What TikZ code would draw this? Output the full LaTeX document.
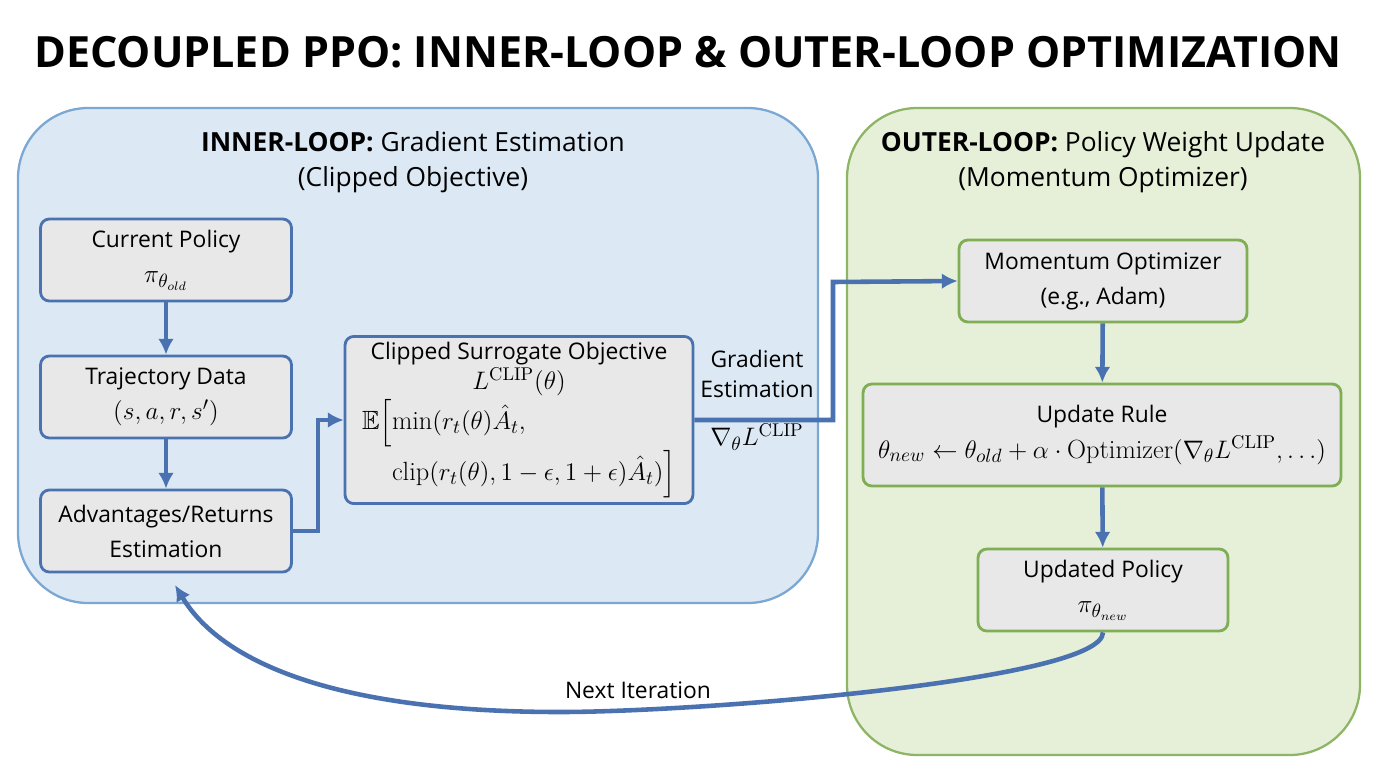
\documentclass[tikz,border=0pt]{standalone}
\usepackage{amsmath,amssymb}
\usepackage{fontspec}
\setmainfont{Open Sans}
\setmathrm{Latin Modern Roman}
\usetikzlibrary{arrows.meta}
\definecolor{bbord}{HTML}{4A72B0}
\definecolor{ifill}{HTML}{DCE9F5}
\definecolor{iline}{HTML}{7BA7D3}
\definecolor{ofill}{HTML}{E6F0D8}
\definecolor{oline}{HTML}{8DB565}
\definecolor{nfill}{HTML}{E8E8E8}
\definecolor{obord}{HTML}{7FAE55}
\newcommand{\mf}{\fontsize{15}{22}\selectfont}
\begin{document}
\begin{tikzpicture}[x=0.02cm,y=-0.02cm,
  box/.style={draw=bbord,line width=1.6pt,fill=nfill,rounded corners=5pt,align=center,font=\fontsize{13}{20}\selectfont},
  gbox/.style={box,draw=obord},
  arr/.style={draw=bbord,line width=2.6pt,-{Latex[length=9pt,width=9pt]}},
  lab/.style={font=\fontsize{13}{17}\selectfont,align=center}]
\useasboundingbox (0,0) rectangle (1376,768);
\node[font=\bfseries\fontsize{24.5}{30}\selectfont] (title) at (688,52) {DECOUPLED PPO: INNER-LOOP \& OUTER-LOOP OPTIMIZATION};
\path[draw=iline,fill=ifill,line width=1.3pt,rounded corners=40pt] (18,108) rectangle (818,603);
\path[draw=oline,fill=ofill,line width=1.3pt,rounded corners=40pt] (847,108) rectangle (1360,755);
\node[lab,font=\fontsize{15}{20}\selectfont] (ih) at (413,162) {\textbf{INNER-LOOP:} Gradient Estimation\\(Clipped Objective)};
\node[lab,font=\fontsize{15}{20}\selectfont] (oh) at (1103,162) {\textbf{OUTER-LOOP:} Policy Weight Update\\(Momentum Optimizer)};
\node[box,minimum width=5.02cm,minimum height=1.64cm] (cp) at (166,260) {Current Policy\\{\mf$\pi_{\theta_{old}}$}};
\node[box,minimum width=5.02cm,minimum height=1.64cm] (tr) at (166,397) {Trajectory Data\\{\mf$(s,a,r,s')$}};
\node[box,minimum width=5.02cm,minimum height=1.64cm] (ad) at (166,531) {Advantages/Returns\\Estimation};
\node[box,minimum width=6.96cm,minimum height=2.96cm] (cl) at (519,420) {Clipped Surrogate Objective\\[-3pt]{\mf$L^{\mathrm{CLIP}}(\theta)$}\\[1pt]
{\mf$\begin{aligned}\mathbb{E}\Big[&\mathrm{min}(r_t(\theta)\hat{A}_t,\\[-2pt] &\mathrm{clip}(r_t(\theta),1-\epsilon,1+\epsilon)\hat{A}_t)\Big]\end{aligned}$}};
\node[gbox,minimum width=5.76cm,minimum height=1.64cm] (mo) at (1103,281) {Momentum Optimizer\\(e.g., Adam)};
\node[gbox,minimum width=9.56cm,minimum height=2.04cm] (ur) at (1102,435) {Update Rule\\{\mf$\theta_{new}\leftarrow\theta_{old}+\alpha\cdot\mathrm{Optimizer}(\nabla_\theta L^{\mathrm{CLIP}},\ldots)$}};
\node[gbox,minimum width=5.0cm,minimum height=1.64cm] (up) at (1103,590) {Updated Policy\\{\mf$\pi_{\theta_{new}}$}};
\draw[arr] (cp) -- (tr);
\draw[arr] (tr) -- (ad);
\draw[arr] (ad.east) -- (318,531) -- (318,420) -- (cl.west);
\draw[arr] (cl.east) -- (833,420) -- (833,282) -- (mo.west);
\node[lab] (ge) at (757,374) {Gradient\\Estimation};
\node[lab] (gl) at (757,437) {\mf$\nabla_\theta L^{\mathrm{CLIP}}$};
\draw[arr] (mo) -- (ur);
\draw[arr] (ur) -- (up);
\draw[arr] (up.south) .. controls (1103,680) and (700,712) .. (560,712) .. controls (330,712) and (220,660) .. (175,585);
\node[lab] (ni) at (638,690) {Next Iteration};
\end{tikzpicture}
\end{document}
